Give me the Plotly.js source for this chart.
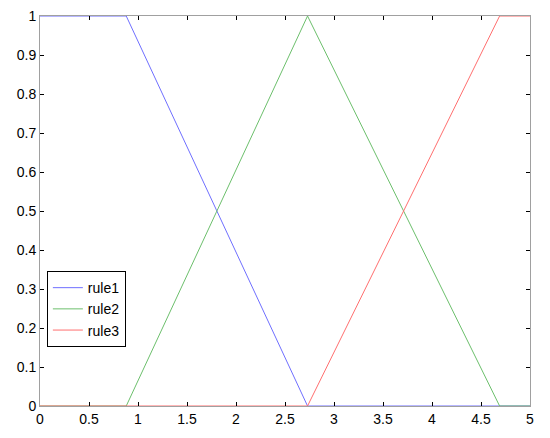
<!DOCTYPE html>
<html>
<head>
<meta charset="utf-8">
<script src="https://cdn.plot.ly/plotly-3.0.1.min.js"></script>
<style>
  html, body { margin: 0; padding: 0; background: #fff; }
  #chart { width: 550px; height: 438px; }
</style>
</head>
<body>
<div id="chart"></div>
<script>
// breakpoints
const X_RULE1 = [0, 0.88, 2.73, 5];
const Y_RULE1 = [1, 1, 0, 0];

const X_RULE2 = [0, 0.88, 2.73, 4.69, 5];
const Y_RULE2 = [0, 0, 1, 0, 0];

const X_RULE3 = [0, 2.73, 4.69, 5];
const Y_RULE3 = [0, 0, 1, 1];

const NAMES = ["rule1", "rule2", "rule3"];
const COLORS = ["#6f6fff", "#6cbf6c", "#ff6f6f"];

const DATA = [
  { x: X_RULE1, y: Y_RULE1, name: NAMES[0] },
  { x: X_RULE2, y: Y_RULE2, name: NAMES[1] },
  { x: X_RULE3, y: Y_RULE3, name: NAMES[2] }
].map((t, i) => ({
  ...t,
  mode: "lines",
  type: "scatter",
  line: { color: COLORS[i], width: 1 }
}));

const AXIS = {
  showgrid: false,
  zeroline: false,
  showline: true,
  linecolor: "#a0a0a0",
  linewidth: 1,
  mirror: "ticks",
  ticks: "inside",
  ticklen: 4,
  tickcolor: "#000",
  tickfont: { family: "Arial, Liberation Sans", size: 14, color: "#000" }
};

const LAYOUT = {
  width: 550,
  height: 438,
  margin: { l: 40, r: 20, t: 16, b: 32 },
  paper_bgcolor: "#fff",
  plot_bgcolor: "#fff",
  xaxis: { ...AXIS, range: [0, 5], dtick: 0.5, tick0: 0 },
  yaxis: { ...AXIS, range: [0, 1], dtick: 0.1, tick0: 0 },
  showlegend: true,
  legend: {
    x: 0.014, y: 0.346, xanchor: "left", yanchor: "top",
    bgcolor: "#fff",
    bordercolor: "#000",
    borderwidth: 1,
    entrywidth: 92,
    font: { family: "Arial, Liberation Sans", size: 14, color: "#000" },
    tracegroupgap: 0
  }
};

Plotly.newPlot("chart", DATA, LAYOUT, { displayModeBar: false, staticPlot: true });
</script>
</body>
</html>
